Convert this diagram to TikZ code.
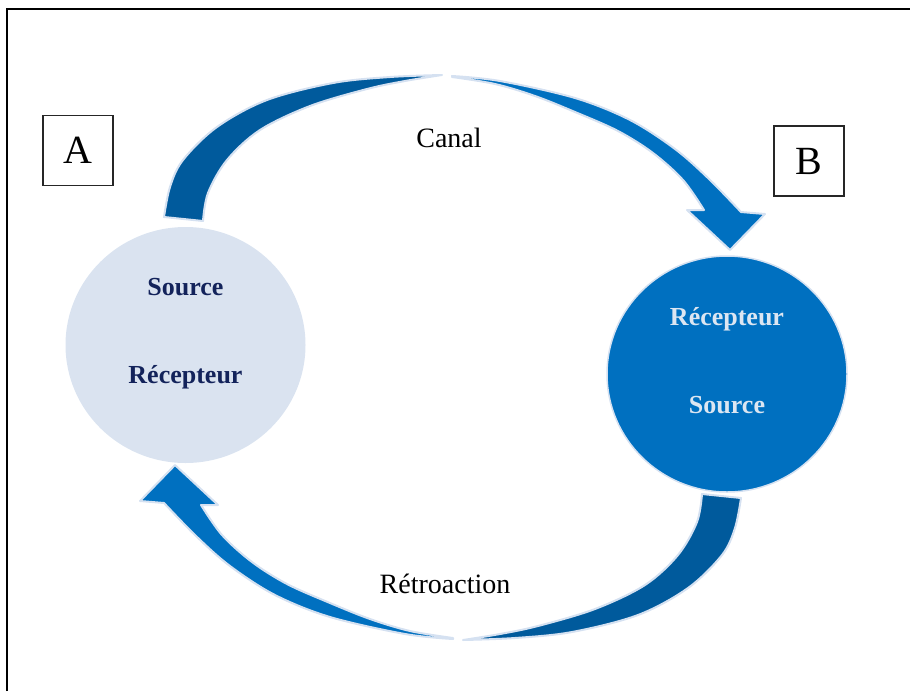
\documentclass[tikz,border=0pt]{standalone}
\usepackage{fontspec}
\setmainfont{Liberation Serif}
\usetikzlibrary{shapes.geometric}

\definecolor{paleblue}{HTML}{DAE3F0}
\definecolor{rimblue}{HTML}{D5E1F1}
\definecolor{midblue}{HTML}{0070C0}
\definecolor{deepblue}{HTML}{005A9C}
\definecolor{navytext}{HTML}{13235B}
\definecolor{lighttext}{HTML}{DCE6F2}

\tikzset{
  party/.style={ellipse, minimum width=240pt, minimum height=236pt, inner sep=0pt},
  letterbox/.style={draw=black!85, line width=1.1pt, minimum width=70pt, minimum height=70pt,
                    inner sep=0pt, font=\fontsize{40}{40}\selectfont},
  roletext/.style={anchor=base, font=\fontsize{26}{28}\selectfont\bfseries},
  flowtext/.style={anchor=base, font=\fontsize{28}{30}\selectfont},
  bandtail/.style={fill=deepblue, draw=rimblue, line width=2pt, line join=round},
  bandhead/.style={fill=midblue, draw=rimblue, line width=2pt, line join=round},
}

% one curved block arrow: a dark tail rising from the left and a bright
% head coming down on the right, meeting in a thin point at the top
\newcommand{\curvedblockarrow}{%
  \path[bandtail]
    plot[smooth, tension=0.55] coordinates {(164,217) (170,187) (183,160) (217,127) (267,100) (333,83) (390,77) (442,75)}
    -- plot[smooth, tension=0.55] coordinates {(442,75) (405,81) (367,89) (310,106) (260,130) (227,160) (208,193) (203,221)}
    -- cycle;
  \path[bandhead]
    plot[smooth, tension=0.55] coordinates {(452,76) (500,81) (575,98) (630,120) (675,149) (709,179) (741,212)}
    -- (765,214) -- (730,250) -- (687,210) -- (704,210)
    -- plot[smooth, tension=0.55] coordinates {(704,210) (683,180) (653,153) (618,131) (575,112) (535,96) (495,84) (452,77)}
    -- cycle;
}

\begin{document}
\begin{tikzpicture}[x=1pt, y=-1pt]
  \useasboundingbox (0,0) rectangle (910,691);

  % outer frame (open to the right and bottom)
  \draw[line width=2.5pt] (7,691) -- (7,9) -- (910,9);

  % the two communicating parties
  \node[party, fill=paleblue] (pa) at (185.5,345) {};
  \node[party, fill=midblue, draw=rimblue, line width=1.5pt] (pb) at (727,374) {};

  \node[roletext, text=navytext] (pasrc) at (185.5,295) {Source};
  \node[roletext, text=navytext] (parec) at (185.5,383) {Récepteur};
  \node[roletext, text=lighttext] (pbrec) at (727,325) {Récepteur};
  \node[roletext, text=lighttext] (pbsrc) at (727,413) {Source};

  % labels A and B
  \node[letterbox] (boxa) at (78,150.5) {A};
  \node[letterbox] (boxb) at (809,161) {B};

  % channel: from A over the top to B
  \curvedblockarrow
  % feedback: the same arrow turned half a turn, from B under the bottom to A
  \begin{scope}[rotate around={180:(452.5,357.5)}]
    \curvedblockarrow
  \end{scope}

  % channel names
  \node[flowtext] (canal) at (449,147) {Canal};
  \node[flowtext] (retro) at (445,593) {Rétroaction};
\end{tikzpicture}
\end{document}
